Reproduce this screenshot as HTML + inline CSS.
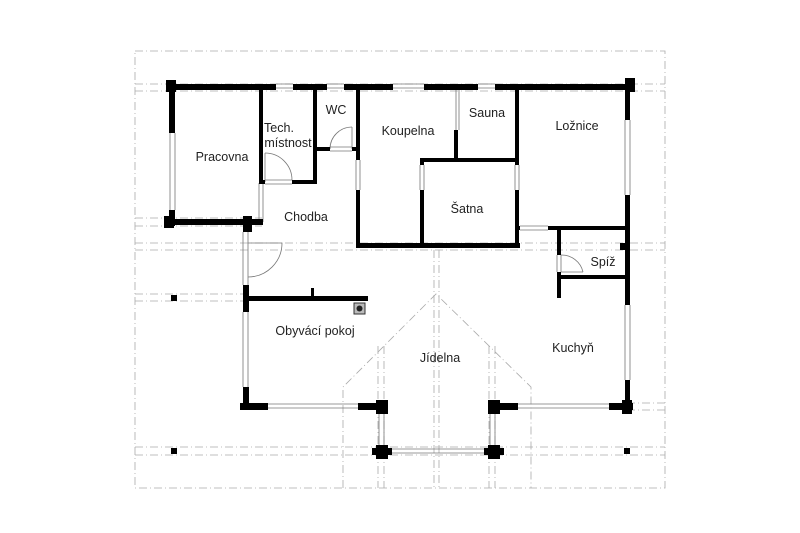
<!DOCTYPE html>
<html><head><meta charset="utf-8"><style>
html,body{margin:0;padding:0;background:#fff}
svg{display:block}
text{font-family:"Liberation Sans",sans-serif;font-size:12.5px;fill:#222;text-anchor:middle}
</style></head><body>
<svg width="800" height="533" viewBox="0 0 800 533" xmlns="http://www.w3.org/2000/svg">
<g stroke="#aaa" stroke-width="0.8" fill="none" stroke-dasharray="8,3,1,3">
<rect x="135" y="51" width="530" height="437"/>
<line x1="135" y1="84" x2="665" y2="84"/><line x1="135" y1="91" x2="665" y2="91"/>
<line x1="135" y1="218" x2="262" y2="218"/><line x1="135" y1="226" x2="262" y2="226"/>
<line x1="135" y1="243" x2="665" y2="243"/><line x1="135" y1="250" x2="665" y2="250"/>
<line x1="135" y1="294" x2="245" y2="294"/><line x1="135" y1="301" x2="245" y2="301"/>
<line x1="627" y1="403" x2="665" y2="403"/><line x1="627" y1="410" x2="665" y2="410"/>
<line x1="135" y1="447" x2="665" y2="447"/><line x1="135" y1="455" x2="665" y2="455"/>
<line x1="434" y1="250" x2="434" y2="488"/><line x1="439" y1="250" x2="439" y2="488"/>
<line x1="378" y1="346" x2="378" y2="488"/><line x1="384" y1="346" x2="384" y2="488"/>
<line x1="489" y1="346" x2="489" y2="488"/><line x1="495" y1="346" x2="495" y2="488"/>
<polyline points="343,488 343,387 436,294 531,387 531,488"/>
</g>
<g stroke="#777" stroke-width="0.8" fill="none">
<line x1="276" y1="84" x2="293" y2="84"/><line x1="276" y1="88" x2="293" y2="88"/>
<line x1="327" y1="84" x2="344" y2="84"/><line x1="327" y1="88" x2="344" y2="88"/>
<line x1="393" y1="84" x2="424" y2="84"/><line x1="393" y1="88" x2="424" y2="88"/>
<line x1="478" y1="84" x2="495" y2="84"/><line x1="478" y1="88" x2="495" y2="88"/>
<line x1="170" y1="133" x2="170" y2="210"/><line x1="175" y1="133" x2="175" y2="210"/>
<line x1="625" y1="120" x2="625" y2="195"/><line x1="630" y1="120" x2="630" y2="195"/>
<line x1="625" y1="305" x2="625" y2="380"/><line x1="630" y1="305" x2="630" y2="380"/>
<line x1="243" y1="312" x2="243" y2="387"/><line x1="248" y1="312" x2="248" y2="387"/>
<line x1="268" y1="404" x2="358" y2="404"/><line x1="268" y1="408" x2="358" y2="408"/>
<line x1="518" y1="404" x2="609" y2="404"/><line x1="518" y1="408" x2="609" y2="408"/>
<line x1="388" y1="449" x2="490" y2="449"/><line x1="388" y1="453" x2="490" y2="453"/>
<line x1="379" y1="412" x2="379" y2="446"/><line x1="384" y1="412" x2="384" y2="446"/>
<line x1="490" y1="412" x2="490" y2="446"/><line x1="495" y1="412" x2="495" y2="446"/>
<line x1="243" y1="232" x2="243" y2="285"/><line x1="248" y1="232" x2="248" y2="285"/>
<line x1="456" y1="88" x2="456" y2="130"/><line x1="459" y1="88" x2="459" y2="130"/>
<line x1="259" y1="183" x2="259" y2="222"/><line x1="263" y1="183" x2="263" y2="222"/>
<line x1="356" y1="160" x2="356" y2="190"/><line x1="360" y1="160" x2="360" y2="190"/>
<line x1="420" y1="165" x2="420" y2="190"/><line x1="424" y1="165" x2="424" y2="190"/>
<line x1="515" y1="165" x2="515" y2="190"/><line x1="519" y1="165" x2="519" y2="190"/>
<line x1="520" y1="226" x2="548" y2="226"/><line x1="520" y1="230" x2="548" y2="230"/>
<line x1="557" y1="255" x2="557" y2="272"/><line x1="561" y1="255" x2="561" y2="272"/>
<line x1="330" y1="147" x2="352" y2="147"/><line x1="330" y1="151" x2="352" y2="151"/>
<line x1="265" y1="180" x2="292" y2="180"/><line x1="265" y1="184" x2="292" y2="184"/>
<path d="M265,153 A27,27 0 0 1 292,180"/><line x1="265" y1="153" x2="265" y2="182"/>
<path d="M330,149 A22,22 0 0 1 352,127"/><line x1="352" y1="127" x2="352" y2="149"/>
<path d="M248,243 L282,243 A34,34 0 0 1 248,277"/>
<path d="M561,255 A22,22 0 0 1 583,272"/><line x1="561" y1="272" x2="583" y2="272"/>
</g>
<g fill="#000">
<rect x="166" y="84" width="110" height="6"/>
<rect x="293" y="84" width="34" height="6"/>
<rect x="344" y="84" width="49" height="6"/>
<rect x="424" y="84" width="54" height="6"/>
<rect x="495" y="84" width="136" height="6"/>
<rect x="166" y="80" width="10" height="12"/>
<rect x="625" y="78" width="10" height="14"/>
<rect x="169" y="84" width="6" height="49"/>
<rect x="169" y="210" width="6" height="16"/>
<rect x="166" y="219" width="96" height="6"/>
<rect x="164" y="216" width="10" height="12"/>
<rect x="243" y="216" width="9" height="16"/>
<rect x="259" y="86" width="4" height="97"/>
<rect x="259" y="219" width="4" height="6"/>
<rect x="292" y="180" width="25" height="4"/>
<rect x="259" y="180" width="6" height="4"/>
<rect x="313" y="86" width="4" height="98"/>
<rect x="315" y="147" width="15" height="4"/>
<rect x="352" y="147" width="6" height="4"/>
<rect x="356" y="86" width="4" height="74"/>
<rect x="356" y="190" width="4" height="58"/>
<rect x="356" y="243" width="164" height="5"/>
<rect x="454" y="130" width="4" height="30"/>
<rect x="420" y="158" width="99" height="4"/>
<rect x="420" y="158" width="4" height="7"/>
<rect x="420" y="190" width="4" height="55"/>
<rect x="515" y="86" width="4" height="79"/>
<rect x="515" y="190" width="4" height="58"/>
<rect x="515" y="226" width="5" height="4"/>
<rect x="548" y="226" width="79" height="4"/>
<rect x="557" y="228" width="4" height="27"/>
<rect x="557" y="272" width="4" height="26"/>
<rect x="557" y="275" width="70" height="4"/>
<rect x="620" y="243" width="8" height="7"/>
<rect x="625" y="86" width="5" height="34"/>
<rect x="625" y="195" width="5" height="110"/>
<rect x="625" y="380" width="5" height="30"/>
<rect x="243" y="285" width="6" height="27"/>
<rect x="243" y="387" width="6" height="23"/>
<rect x="243" y="296" width="125" height="5"/>
<rect x="311" y="288" width="3" height="10"/>
<rect x="240" y="403" width="28" height="7"/>
<rect x="358" y="403" width="28" height="7"/>
<rect x="376" y="400" width="12" height="14"/>
<rect x="490" y="403" width="28" height="7"/>
<rect x="488" y="400" width="12" height="14"/>
<rect x="609" y="403" width="24" height="7"/>
<rect x="622" y="400" width="10" height="14"/>
<rect x="376" y="445" width="12" height="14"/>
<rect x="372" y="448" width="20" height="7"/>
<rect x="488" y="445" width="12" height="14"/>
<rect x="484" y="448" width="20" height="7"/>
<rect x="171" y="295" width="6" height="6"/>
<rect x="171" y="448" width="6" height="6"/>
<rect x="624" y="448" width="6" height="6"/>
</g>
<rect x="354" y="303" width="11" height="11" fill="#bbb" stroke="#333" stroke-width="1"/>
<circle cx="359.5" cy="308.5" r="3" fill="#222"/>
<text x="222" y="161">Pracovna</text>
<text x="279" y="132">Tech.</text>
<text x="288" y="147">místnost</text>
<text x="336" y="114">WC</text>
<text x="408" y="135">Koupelna</text>
<text x="487" y="117">Sauna</text>
<text x="577" y="130">Ložnice</text>
<text x="306" y="221">Chodba</text>
<text x="467" y="213">Šatna</text>
<text x="603" y="266">Spíž</text>
<text x="315" y="335">Obyvácí pokoj</text>
<text x="440" y="362">Jídelna</text>
<text x="573" y="352">Kuchyň</text>
</svg>
</body></html>
